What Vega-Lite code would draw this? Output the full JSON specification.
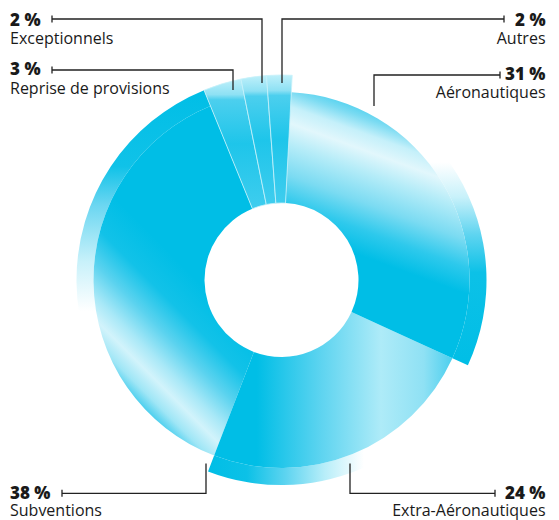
{
  "$schema": "https://vega.github.io/schema/vega-lite/v6.json",
  "width": 555,
  "height": 480,
  "padding": {"left": 4, "top": 40, "right": 0, "bottom": 0},
  "autosize": {"type": "none"},
  "background": "#ffffff",
  "config": {"view": {"stroke": null}},
  "datasets": {
    "shares": [
      {"cat": "Aéronautiques", "value": 31, "order": 1},
      {"cat": "Extra-Aéronautiques", "value": 24, "order": 2},
      {"cat": "Subventions", "value": 38, "order": 3},
      {"cat": "Reprise de provisions", "value": 3, "order": 4},
      {"cat": "Exceptionnels", "value": 2, "order": 5},
      {"cat": "Autres", "value": 2, "order": 6}
    ],
    "labels": [
      {"cat": "Exceptionnels", "pct": "2 %", "side": "left", "x": -271.5, "py": 254.5, "ny": 236},
      {"cat": "Reprise de provisions", "pct": "3 %", "side": "left", "x": -271.5, "py": 205, "ny": 186.5},
      {"cat": "Subventions", "pct": "38 %", "side": "left", "x": -271.5, "py": -218.5, "ny": -236},
      {"cat": "Autres", "pct": "2 %", "side": "right", "x": 264, "py": 254.5, "ny": 236},
      {"cat": "Aéronautiques", "pct": "31 %", "side": "right", "x": 264, "py": 200.5, "ny": 182.5},
      {"cat": "Extra-Aéronautiques", "pct": "24 %", "side": "right", "x": 264, "py": -218.5, "ny": -236}
    ],
    "leaders": [
      {"cat": "Exceptionnels", "i": 0, "x": -229.5, "y": 261},
      {"cat": "Exceptionnels", "i": 1, "x": -19.5, "y": 261},
      {"cat": "Exceptionnels", "i": 2, "x": -19.5, "y": 197},
      {"cat": "Reprise de provisions", "i": 0, "x": -229.5, "y": 210},
      {"cat": "Reprise de provisions", "i": 1, "x": -48.5, "y": 210},
      {"cat": "Reprise de provisions", "i": 2, "x": -48.5, "y": 190},
      {"cat": "Autres", "i": 0, "x": 222.5, "y": 261},
      {"cat": "Autres", "i": 1, "x": 0.5, "y": 261},
      {"cat": "Autres", "i": 2, "x": 0.5, "y": 197},
      {"cat": "Aéronautiques", "i": 0, "x": 218.5, "y": 205},
      {"cat": "Aéronautiques", "i": 1, "x": 92.5, "y": 205},
      {"cat": "Aéronautiques", "i": 2, "x": 92.5, "y": 174},
      {"cat": "Subventions", "i": 0, "x": -219.5, "y": -213.3},
      {"cat": "Subventions", "i": 1, "x": -75.5, "y": -213.3},
      {"cat": "Subventions", "i": 2, "x": -75.5, "y": -183.5},
      {"cat": "Extra-Aéronautiques", "i": 0, "x": 213.5, "y": -213.3},
      {"cat": "Extra-Aéronautiques", "i": 1, "x": 68.5, "y": -213.3},
      {"cat": "Extra-Aéronautiques", "i": 2, "x": 68.5, "y": -183.5}
    ]
  },
  "layer": [
    {
      "data": {"name": "shares"},
      "transform": [
        {"stack": "value", "groupby": [], "sort": [{"field": "order", "order": "ascending"}], "as": ["v0", "v1"]},
        {"filter": "datum.cat === 'Subventions'"}
      ],
      "mark": {"type": "arc", "innerRadius": 188, "outerRadius": 205,
        "fill": {"gradient": "linear", "x1": 0, "y1": 0, "x2": 0, "y2": 1, "stops": [
          {"offset": 0, "color": "#00bee6"}, {"offset": 0.2, "color": "#10c2e8"}, {"offset": 0.3, "color": "#6ad6f1"},
          {"offset": 0.45, "color": "#c8f1fa"}, {"offset": 0.58, "color": "#ffffff"}, {"offset": 1, "color": "#ffffff"}]}},
      "encoding": {
        "theta": {"field": "v0", "type": "quantitative", "stack": null, "scale": {"domain": [0, 100], "range": [0.05236, 6.33555]}},
        "theta2": {"field": "v1"}
      }
    },
    {
      "data": {"name": "shares"},
      "transform": [
        {"stack": "value", "groupby": [], "sort": [{"field": "order", "order": "ascending"}], "as": ["v0", "v1"]},
        {"filter": "datum.cat === 'Extra-Aéronautiques'"}
      ],
      "mark": {"type": "arc", "innerRadius": 188, "outerRadius": 205,
        "fill": {"gradient": "linear", "x1": 0, "y1": 0, "x2": 1, "y2": 0, "stops": [
          {"offset": 0, "color": "#00bee6"}, {"offset": 0.15, "color": "#0cc1e7"}, {"offset": 0.3, "color": "#5ed4f0"},
          {"offset": 0.45, "color": "#b8eef9"}, {"offset": 0.6, "color": "#ffffff"}, {"offset": 1, "color": "#ffffff"}]}},
      "encoding": {
        "theta": {"field": "v0", "type": "quantitative", "stack": null, "scale": {"domain": [0, 100], "range": [0.05236, 6.33555]}},
        "theta2": {"field": "v1"}
      }
    },
    {
      "data": {"name": "shares"},
      "transform": [
        {"stack": "value", "groupby": [], "sort": [{"field": "order", "order": "ascending"}], "as": ["v0", "v1"]},
        {"filter": "datum.cat === 'Aéronautiques'"}
      ],
      "mark": {"type": "arc", "innerRadius": 188, "outerRadius": 205,
        "fill": {"gradient": "linear", "x1": 0, "y1": 0, "x2": 0, "y2": 1, "stops": [
          {"offset": 0, "color": "#ffffff"}, {"offset": 0.3, "color": "#ffffff"}, {"offset": 0.42, "color": "#c8f1fa"},
          {"offset": 0.55, "color": "#5ed4f0"}, {"offset": 0.68, "color": "#0cc1e7"}, {"offset": 1, "color": "#00bee6"}]}},
      "encoding": {
        "theta": {"field": "v0", "type": "quantitative", "stack": null, "scale": {"domain": [0, 100], "range": [0.05236, 6.33555]}},
        "theta2": {"field": "v1"}
      }
    },
    {
      "data": {"name": "shares"},
      "transform": [
        {"stack": "value", "groupby": [], "sort": [{"field": "order", "order": "ascending"}], "as": ["v0", "v1"]},
        {"filter": "datum.cat === 'Subventions'"}
      ],
      "mark": {"type": "arc", "innerRadius": 77, "outerRadius": 188,
        "fill": {"gradient": "linear", "x1": 0.908, "y1": 0.619, "x2": 0.701, "y2": 1.07, "stops": [
          {"offset": 0, "color": "#00bee6"}, {"offset": 0.25, "color": "#12c2e8"}, {"offset": 0.45, "color": "#5cd3ef"},
          {"offset": 0.62, "color": "#a8e8f7"}, {"offset": 0.74, "color": "#d2f3fb"}, {"offset": 0.86, "color": "#9fe6f6"},
          {"offset": 0.95, "color": "#4ccfee"}, {"offset": 1, "color": "#2ac8ec"}]}},
      "encoding": {
        "theta": {"field": "v0", "type": "quantitative", "stack": null, "scale": {"domain": [0, 100], "range": [0.05236, 6.33555]}},
        "theta2": {"field": "v1"}
      }
    },
    {
      "data": {"name": "shares"},
      "transform": [
        {"stack": "value", "groupby": [], "sort": [{"field": "order", "order": "ascending"}], "as": ["v0", "v1"]},
        {"filter": "datum.cat === 'Extra-Aéronautiques'"}
      ],
      "mark": {"type": "arc", "innerRadius": 77, "outerRadius": 188,
        "fill": {"gradient": "linear", "x1": 0, "y1": 0, "x2": 1, "y2": 0, "stops": [
          {"offset": 0, "color": "#00bee6"}, {"offset": 0.18, "color": "#00bee6"}, {"offset": 0.45, "color": "#5ed4f0"},
          {"offset": 0.7, "color": "#aeebf8"}, {"offset": 0.88, "color": "#8fe1f4"}, {"offset": 1, "color": "#4ccfee"}]}},
      "encoding": {
        "theta": {"field": "v0", "type": "quantitative", "stack": null, "scale": {"domain": [0, 100], "range": [0.05236, 6.33555]}},
        "theta2": {"field": "v1"}
      }
    },
    {
      "data": {"name": "shares"},
      "transform": [
        {"stack": "value", "groupby": [], "sort": [{"field": "order", "order": "ascending"}], "as": ["v0", "v1"]},
        {"filter": "datum.cat === 'Aéronautiques'"}
      ],
      "mark": {"type": "arc", "innerRadius": 77, "outerRadius": 188,
        "fill": {"gradient": "linear", "x1": 0.0712, "y1": 0.529, "x2": 0.2086, "y2": -0.017, "stops": [
          {"offset": 0, "color": "#00bee6"}, {"offset": 0.17, "color": "#2ec9ec"}, {"offset": 0.35, "color": "#7bdbf2"},
          {"offset": 0.55, "color": "#b5ecf8"}, {"offset": 0.69, "color": "#e2f7fc"}, {"offset": 0.8, "color": "#c5f0fa"},
          {"offset": 0.9, "color": "#7bdbf2"}, {"offset": 1, "color": "#3ecdee"}]}},
      "encoding": {
        "theta": {"field": "v0", "type": "quantitative", "stack": null, "scale": {"domain": [0, 100], "range": [0.05236, 6.33555]}},
        "theta2": {"field": "v1"}
      }
    },
    {
      "data": {"name": "shares"},
      "transform": [
        {"stack": "value", "groupby": [], "sort": [{"field": "order", "order": "ascending"}], "as": ["v0", "v1"]},
        {"filter": "datum.order >= 4"}
      ],
      "mark": {"type": "arc", "innerRadius": 77, "outerRadius": 205, "stroke": "#c8f1fa", "strokeWidth": 0.8,
        "fill": {"gradient": "linear", "x1": 0, "y1": 0, "x2": 0, "y2": 1, "stops": [
          {"offset": 0, "color": "#bff0fa"}, {"offset": 0.12, "color": "#8ee1f4"}, {"offset": 0.16, "color": "#4ccfee"},
          {"offset": 0.5, "color": "#1ec5ea"}, {"offset": 1, "color": "#3fcdee"}]}},
      "encoding": {
        "theta": {"field": "v0", "type": "quantitative", "stack": null, "scale": {"domain": [0, 100], "range": [0.05236, 6.33555]}},
        "theta2": {"field": "v1"}
      }
    },
    {
      "data": {"name": "leaders"},
      "mark": {"type": "line", "stroke": "#222222", "strokeWidth": 1.3, "interpolate": "linear"},
      "encoding": {
        "x": {"field": "x", "type": "quantitative", "scale": {"domain": [-277.5, 277.5], "nice": false, "zero": false}, "axis": null},
        "y": {"field": "y", "type": "quantitative", "scale": {"domain": [-240, 240], "nice": false, "zero": false}, "axis": null},
        "detail": {"field": "cat"},
        "order": {"field": "i"}
      }
    },
    {
      "data": {"name": "leaders"},
      "transform": [{"filter": "datum.i === 0"}],
      "mark": {"type": "tick", "orient": "vertical", "size": 7, "thickness": 1.3, "color": "#222222", "opacity": 1},
      "encoding": {
        "x": {"field": "x", "type": "quantitative", "axis": null},
        "y": {"field": "y", "type": "quantitative", "axis": null}
      }
    },
    {
      "data": {"name": "labels"},
      "transform": [{"filter": "datum.side === 'left'"}],
      "mark": {"type": "text", "align": "left", "baseline": "alphabetic", "font": "Open Sans", "fontSize": 17, "fontWeight": 800, "color": "#1a1a1a"},
      "encoding": {
        "x": {"field": "x", "type": "quantitative", "axis": null},
        "y": {"field": "py", "type": "quantitative", "axis": null},
        "text": {"field": "pct"}
      }
    },
    {
      "data": {"name": "labels"},
      "transform": [{"filter": "datum.side === 'right'"}],
      "mark": {"type": "text", "align": "right", "baseline": "alphabetic", "font": "Open Sans", "fontSize": 17, "fontWeight": 800, "color": "#1a1a1a"},
      "encoding": {
        "x": {"field": "x", "type": "quantitative", "axis": null},
        "y": {"field": "py", "type": "quantitative", "axis": null},
        "text": {"field": "pct"}
      }
    },
    {
      "data": {"name": "labels"},
      "transform": [{"filter": "datum.side === 'left'"}],
      "mark": {"type": "text", "align": "left", "baseline": "alphabetic", "font": "Open Sans", "fontSize": 16, "fontWeight": 500, "color": "#1a1a1a"},
      "encoding": {
        "x": {"field": "x", "type": "quantitative", "axis": null},
        "y": {"field": "ny", "type": "quantitative", "axis": null},
        "text": {"field": "cat"}
      }
    },
    {
      "data": {"name": "labels"},
      "transform": [{"filter": "datum.side === 'right'"}],
      "mark": {"type": "text", "align": "right", "baseline": "alphabetic", "font": "Open Sans", "fontSize": 16, "fontWeight": 500, "color": "#1a1a1a"},
      "encoding": {
        "x": {"field": "x", "type": "quantitative", "axis": null},
        "y": {"field": "ny", "type": "quantitative", "axis": null},
        "text": {"field": "cat"}
      }
    }
  ]
}
